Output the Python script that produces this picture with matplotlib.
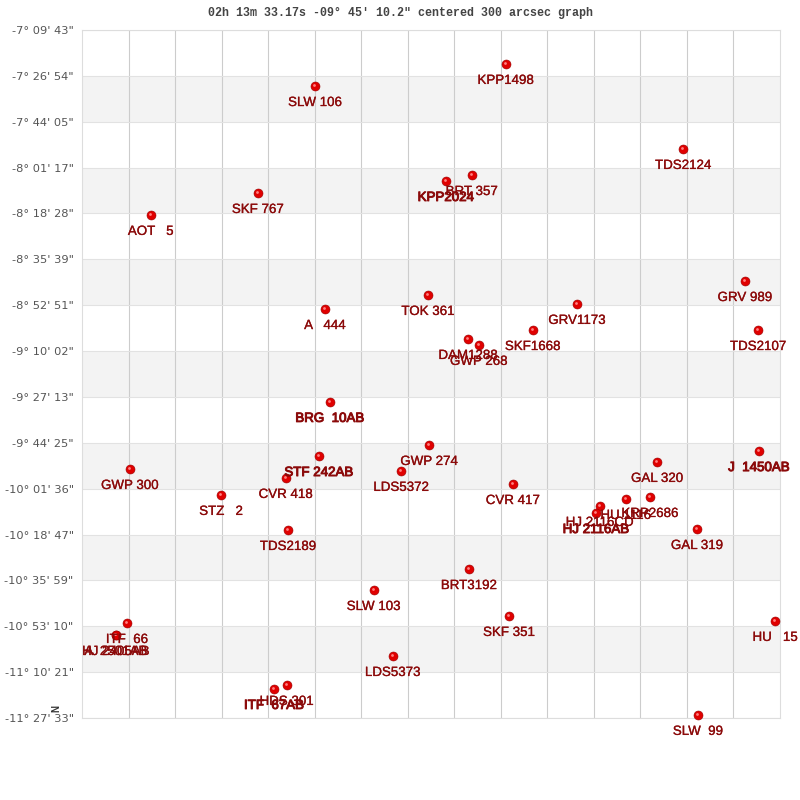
import matplotlib
matplotlib.use('Agg')
import matplotlib.pyplot as plt
import matplotlib.patheffects as pe

#Star names, RA offset in grid units and declination in degrees
names = ['KPP1498', 'SLW 106', 'TDS2124', 'BRT 357', 'KPP2024', 'SKF 767', 'AOT   5', 'GRV 989',
         'TOK 361', 'GRV1173', 'A   444', 'TDS2107', 'SKF1668', 'DAM1288', 'GWP 268', 'BRG  10AB',
         'GWP 274', 'J  1450AB', 'STF 242AB', 'GAL 320', 'GWP 300', 'LDS5372', 'CVR 418', 'CVR 417',
         'STZ   2', 'KRP2686', 'HU 1116', 'HJ 2116CD', 'HJ 2116AB', 'GAL 319', 'TDS2189', 'BRT3192',
         'SLW 103', 'SKF 351', 'HU   15', 'ITF  66', 'HJ 2405AB', 'A  2501AB', 'LDS5373', 'HDS 301',
         'ITF  67AB', 'SLW  99']
ra_grid = [9.11, 5.01, 12.92, 8.38, 7.82, 3.78, 1.48, 14.25,
           7.44, 10.64, 5.22, 14.53, 9.69, 8.30, 8.53, 5.33,
           7.46, 14.55, 5.09, 12.36, 1.03, 6.86, 4.38, 9.26,
           2.99, 12.21, 11.69, 11.13, 11.05, 13.22, 4.43, 8.32,
           6.27, 9.18, 14.90, 0.97, 0.73, 0.73, 6.68, 4.40,
           4.13, 13.24]
dec_deg = [-7.374, -7.512, -7.905, -8.068, -8.105, -8.180, -8.317, -8.730,
           -8.817, -8.873, -8.905, -9.036, -9.036, -9.092, -9.129, -9.485,
           -9.754, -9.792, -9.823, -9.860, -9.904, -9.916, -9.960, -9.998,
           -10.066, -10.079, -10.091, -10.135, -10.179, -10.279, -10.285, -10.529,
           -10.660, -10.822, -10.853, -10.866, -10.941, -10.941, -11.072, -11.253,
           -11.278, -11.440]
#Names drawn twice in the original, they look heavier
heavy = ['BRG  10AB', 'J  1450AB', 'STF 242AB', 'HJ 2116AB', 'ITF  67AB', 'KPP2024']

y_ticks = ['-7° 09\' 43"', '-7° 26\' 54"', '-7° 44\' 05"', '-8° 01\' 17"', '-8° 18\' 28"', '-8° 35\' 39"',
           '-8° 52\' 51"', '-9° 10\' 02"', '-9° 27\' 13"', '-9° 44\' 25"', '-10° 01\' 36"', '-10° 18\' 47"',
           '-10° 35\' 59"', '-10° 53\' 10"', '-11° 10\' 21"', '-11° 27\' 33"']
y_top = -7.1619
y_step = 0.28649
y_pos = [y_top - i * y_step for i in range(len(y_ticks))]
title = '02h 13m 33.17s -09° 45\u2032 10.2" centered 300 arcsec graph'

plt.rcParams['font.family'] = ['Liberation Sans', 'DejaVu Sans']
fig = plt.figure(figsize=(8, 8), dpi=100)
ax = fig.add_axes([82 / 800, 1 - 718 / 800, 698 / 800, 688 / 800])
ax.set_xlim(0, 15)
ax.set_ylim(y_pos[-1], y_pos[0])

#Alternating bands, odd rows are grey
for i in range(1, len(y_pos) - 1, 2):
    ax.axhspan(y_pos[i + 1], y_pos[i], color='#f3f3f3', lw=0, zorder=0)

ax.set_yticks(y_pos)
ax.set_yticklabels(y_ticks, fontsize=8.2, color='#555555', family='DejaVu Sans')
ax.set_xticks(range(1, 15))
ax.tick_params(axis='both', length=0, labelbottom=False, pad=6)
ax.grid(axis='x', color='#cccccc', lw=0.8, zorder=1)
ax.grid(axis='y', color='#e2e2e2', lw=0.8, zorder=1)
for s in ['left', 'bottom', 'right', 'top']:
    ax.spines[s].set_color('#dddddd')
    ax.spines[s].set_linewidth(0.8)

#Stars, with a small highlight to get the shaded ball look
ax.scatter(ra_grid, dec_deg, s=42, c='#e00000', edgecolors='#990000', linewidths=0.4, zorder=3, clip_on=False)
ax.scatter([x - 0.02 for x in ra_grid], [d + 0.008 for d in dec_deg], s=4, c='#ff8080', linewidths=0,
           zorder=4, clip_on=False)

for name, x, y in zip(names, ra_grid, dec_deg):
    stroke = 0.7 if name in heavy else 0.2
    ax.annotate(name, (x, y), xytext=(0, -7.9), textcoords='offset points', ha='center', va='top',
                fontsize=9.6, color='#8b0a0a', zorder=5, annotation_clip=False,
                path_effects=[pe.withStroke(linewidth=stroke, foreground='#8b0a0a')])

fig.text(400 / 800, 1 - 13 / 800, title, ha='center', va='center', fontsize=8.4,
         family='Liberation Mono', fontweight='bold', color='#444444')
fig.text(56 / 800, 1 - 708 / 800, 'N', rotation=90, ha='center', va='center', fontsize=7,
         fontweight='bold', color='#333333')

plt.savefig('out.png', dpi=100)
